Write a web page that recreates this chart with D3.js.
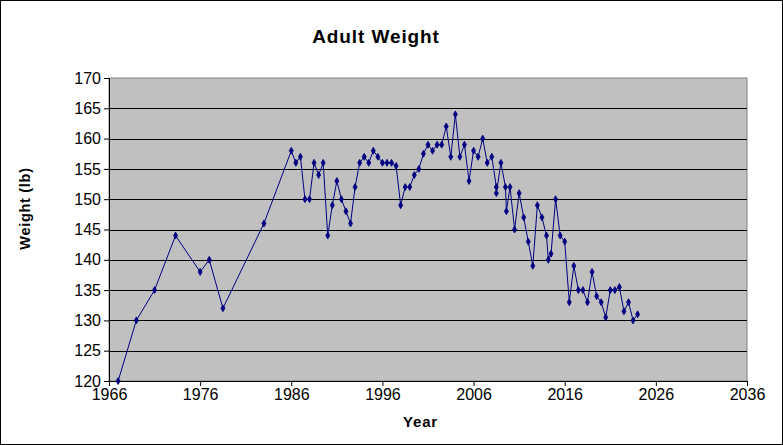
<!DOCTYPE html>
<html>
<head>
<meta charset="utf-8">
<script src="https://cdn.jsdelivr.net/npm/d3@7"></script>
<style>
  body { margin: 0; background: #fff; }
  text { font-family: "Liberation Sans", Arial, sans-serif; }
</style>
</head>
<body>
<div id="chart"></div>
<script>
// years and weights
const years = [
  1967, 1969, 1971, 1973.3, 1976, 1977, 1978.5, 1983,
  1986, 1986.5, 1987, 1987.5, 1988, 1988.5, 1989, 1989.5, 1990, 1990.5,
  1991, 1991.5, 1992, 1992.5, 1993, 1993.5, 1994, 1994.5, 1995, 1995.5,
  1996, 1996.5, 1997, 1997.5, 1998, 1998.5, 1999, 1999.5, 2000, 2000.5,
  2001, 2001.5, 2002, 2002.5, 2003, 2003.5, 2004, 2004.5, 2005, 2005.5,
  2006, 2006.5, 2007, 2007.5, 2008, 2008.5, 2008.5, 2009, 2009.5, 2009.6,
  2010, 2010.5, 2011, 2011.5, 2012, 2012.5, 2013, 2013.5, 2014, 2014.2,
  2014.5, 2015, 2015.5, 2016, 2016.5, 2017, 2017.5, 2018, 2018.5, 2019,
  2019.5, 2020, 2020.5, 2021, 2021.5, 2022, 2022.5, 2023, 2023.5, 2024
];
const weights = [
  120, 130, 135, 144, 138, 140, 132, 146,
  158, 156, 157, 150, 150, 156, 154, 156, 144, 149,
  153, 150, 148, 146, 152, 156, 157, 156, 158, 157,
  156, 156, 156, 155.5, 149, 152, 152, 154, 155, 157.5,
  159, 158, 159, 159, 162, 157, 164, 157, 159, 153,
  158, 157, 160, 156, 157, 152, 151, 156, 152, 148,
  152, 145, 151, 147, 143, 139, 149, 147, 144, 140,
  141, 150, 144, 143, 133, 139, 135, 135, 133, 138,
  134, 133, 130.5, 135, 135, 135.5, 131.5, 133, 130, 131
];
const xTicks = [1966, 1976, 1986, 1996, 2006, 2016, 2026, 2036];
const yTicks = [120, 125, 130, 135, 140, 145, 150, 155, 160, 165, 170];

const W = 783, H = 445;
const margin = { top: 78, right: 36, bottom: 64, left: 109 };
const width = W - margin.left - margin.right;
const height = H - margin.top - margin.bottom;

const svg = d3.select("#chart").append("svg")
  .attr("width", W)
  .attr("height", H);

// outer frame
svg.append("rect")
  .attr("x", 0.5).attr("y", 0.5)
  .attr("width", W - 1).attr("height", H - 1)
  .attr("fill", "#fff").attr("stroke", "#000");

const g = svg.append("g")
  .attr("transform", `translate(${margin.left},${margin.top})`);

const x = d3.scaleLinear().domain([1966, 2036]).range([0, width]);
const y = d3.scaleLinear().domain([120, 170]).range([height, 0]);

// plot background
g.append("rect")
  .attr("width", width).attr("height", height)
  .attr("fill", "#c0c0c0")
  .attr("stroke", "#808080");

// horizontal gridlines
g.selectAll(".grid")
  .data(yTicks.slice(1, -1))
  .join("line")
  .attr("x1", 0).attr("x2", width)
  .attr("y1", d => Math.round(y(d)) + 0.5)
  .attr("y2", d => Math.round(y(d)) + 0.5)
  .attr("stroke", "#000");

const yAxis = g.append("g")
  .call(d3.axisLeft(y).tickValues(yTicks).tickSize(5).tickPadding(3).tickSizeOuter(0));
const xAxis = g.append("g")
  .attr("transform", `translate(0,${height})`)
  .call(d3.axisBottom(x).tickValues(xTicks).tickFormat(d3.format("d")).tickSize(5).tickPadding(3).tickSizeOuter(0));

[yAxis, xAxis].forEach(a => {
  a.selectAll("text")
    .attr("fill", "#000")
    .style("font-size", "16px")
    .style("font-family", '"Liberation Sans", Arial, sans-serif');
  a.selectAll("line, path").attr("stroke", "#000");
});

const pts = years.map((yr, i) => [yr, weights[i]]);

const line = d3.line().x(d => x(d[0])).y(d => y(d[1]));
g.append("path")
  .datum(pts)
  .attr("d", line)
  .attr("fill", "none")
  .attr("stroke", "#000080")
  .attr("stroke-width", 1);

const diamond = d3.symbol().type(d3.symbolDiamond).size(14);
g.selectAll(".pt")
  .data(pts)
  .join("path")
  .attr("d", diamond)
  .attr("transform", d => `translate(${x(d[0])},${y(d[1])})`)
  .attr("fill", "#000080")
  .attr("stroke", "#000080")
  .attr("stroke-width", 0.8);

// titles
svg.append("text")
  .attr("x", 376).attr("y", 43)
  .attr("text-anchor", "middle")
  .style("font-size", "19px").style("font-weight", "bold")
  .style("letter-spacing", "0.9px")
  .text("Adult Weight");

svg.append("text")
  .attr("x", 420.5).attr("y", 427)
  .attr("text-anchor", "middle")
  .style("font-size", "15px").style("font-weight", "bold")
  .style("letter-spacing", "0.8px")
  .text("Year");

svg.append("text")
  .attr("transform", "translate(30,208.5) rotate(-90)")
  .attr("text-anchor", "middle")
  .style("font-size", "14.5px").style("font-weight", "bold")
  .style("letter-spacing", "0.7px")
  .text("Weight (lb)");
</script>
</body>
</html>
